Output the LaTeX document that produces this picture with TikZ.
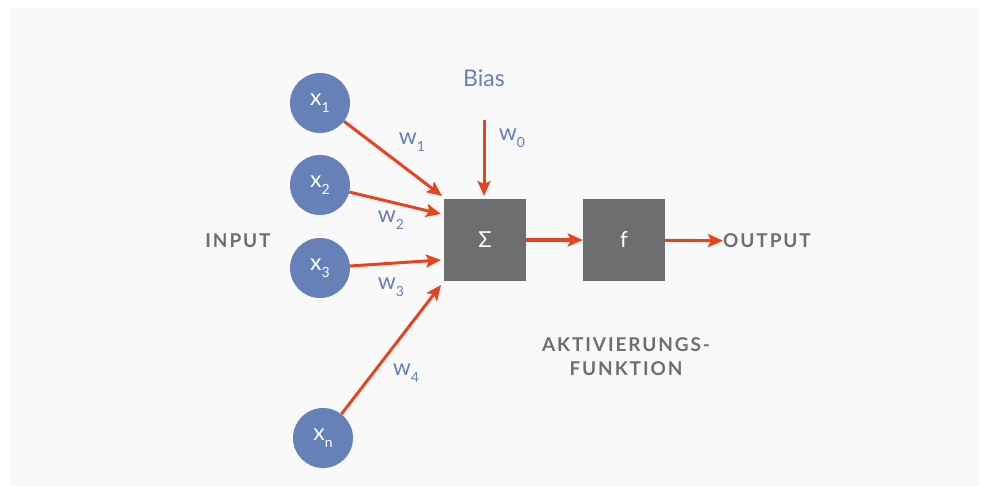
\documentclass[tikz,border=0pt]{standalone}
\usepackage{fontspec}
\setmainfont{Lato}
\newfontfamily\spaced[LetterSpace=10]{Lato}
\usetikzlibrary{arrows.meta}
\definecolor{bg}{HTML}{F9F9F9}
\definecolor{nodeblue}{HTML}{6680B8}
\definecolor{boxgray}{HTML}{6D6E70}
\definecolor{arrowred}{HTML}{E8431F}
\definecolor{txtgray}{HTML}{6D6E70}
\newcommand{\lowsub}[1]{\raisebox{-7pt}{\fontsize{14}{15}\selectfont #1}}
\tikzset{
  inp/.style={circle, fill=nodeblue, minimum size=60pt, inner sep=0pt, text=white, font=\fontsize{23}{24}\selectfont},
  opbox/.style={rectangle, fill=boxgray, minimum size=82pt, inner sep=0pt, text=white, font=\fontsize{22}{24}\selectfont},
  wire/.style={draw=arrowred, line width=3pt, -{Stealth[length=15pt,width=13pt,inset=3pt]}},
  wlabel/.style={text=nodeblue, font=\fontsize{23}{24}\selectfont, inner sep=0pt},
  caps/.style={text=txtgray, font=\fontsize{19}{24}\selectfont\spaced\bfseries, inner sep=0pt, align=center}
}
\begin{document}
\begin{tikzpicture}[x=1pt,y=-1pt]
\useasboundingbox (0,0) rectangle (984,486);
\fill[bg] (11,8) rectangle (980,486);
\node[inp] (x1) at (320,103) {x\lowsub{1}};
\node[inp] (x2) at (320,185) {x\lowsub{2}};
\node[inp] (x3) at (320,268) {x\lowsub{3}};
\node[inp] (xn) at (323,438) {x\lowsub{n}};
\node[opbox] (sum) at (485,240) {Σ};
\node[opbox] (f) at (624,240) {f};
\node[wlabel] (bias) at (484,78) {Bias};
\node[caps, anchor=west] (out) at (723,241) {OUTPUT};
\node[caps] (in) at (238,241) {INPUT};
\node[caps] (akt) at (626,357) {AKTIVIERUNGS-\\FUNKTION};
\coordinate (biasend) at (484,120);
\coordinate (biastip) at (484,196);
\draw[wire] (biasend) -- (biastip);
\draw[wire] (x1) -- (442,196);
\draw[wire] (x2) -- (441,214);
\draw[wire] (x3) -- (441,260);
\draw[wire] (xn) -- (441,285);
\draw[wire] (sum) -- (f);
\draw[wire] (f) -- (out);
\node[wlabel] (w0) at (512,138) {w\lowsub{0}};
\node[wlabel] (w1) at (412,142) {w\lowsub{1}};
\node[wlabel] (w2) at (391,220) {w\lowsub{2}};
\node[wlabel] (w3) at (391,287) {w\lowsub{3}};
\node[wlabel] (w4) at (406,373) {w\lowsub{4}};
\end{tikzpicture}
\end{document}
